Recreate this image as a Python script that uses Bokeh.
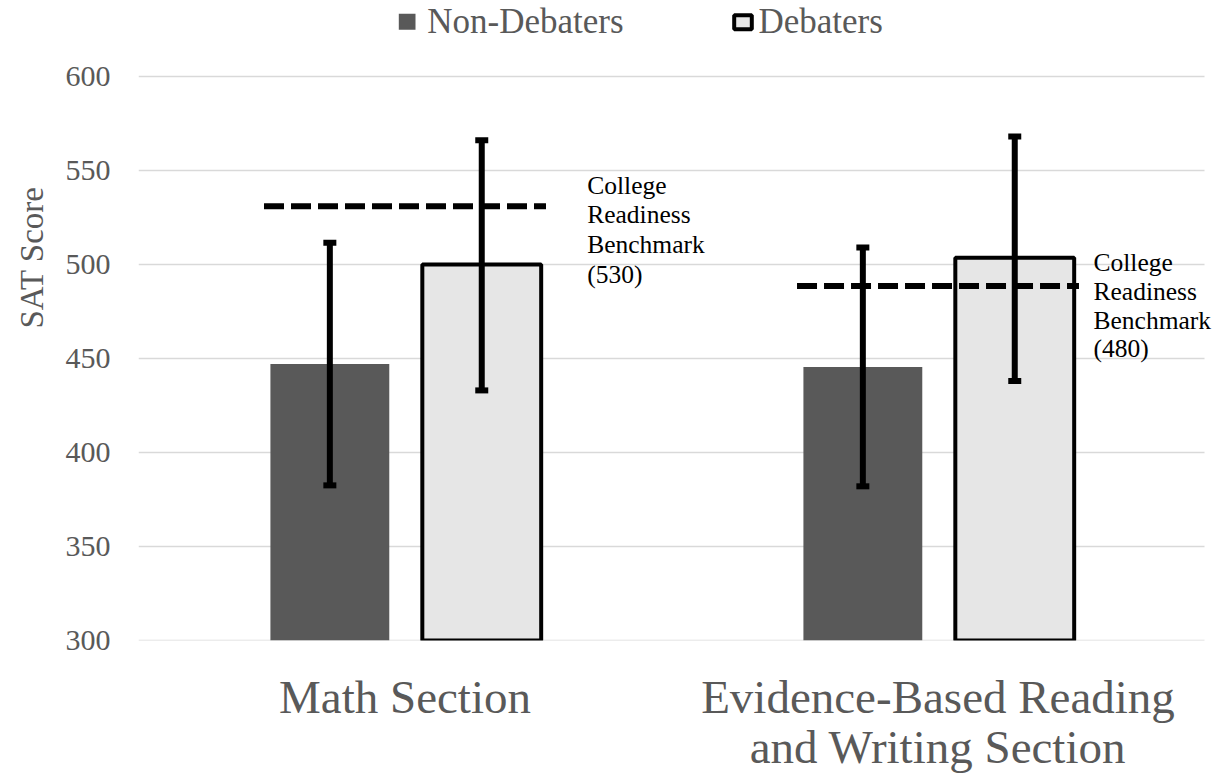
from bokeh.plotting import figure
from bokeh.models import Range1d, FixedTicker, Label, Title
from bokeh.embed import file_html
from bokeh.resources import INLINE
from bokeh.core.properties import value

# ---------------- data ----------------
categories = ["Math Section", "Evidence-Based Reading\nand Writing Section"]
series = ["Non-Debaters", "Debaters"]
non_debaters_mean = [447, 445.5]
non_debaters_low = [382.5, 382]
non_debaters_high = [511.5, 509]
debaters_mean = [500, 503.5]
debaters_low = [433, 438]
debaters_high = [566, 568]
benchmark_drawn = [531, 488.5]
benchmark_labels = [["College", "Readiness", "Benchmark", "(530)"],
                    ["College", "Readiness", "Benchmark", "(480)"]]
y_ticks = [300, 350, 400, 450, 500, 550, 600]

# ---------------- style / layout ----------------
FONT = "Liberation Serif"
GRAY_TEXT = "#595959"
ND_COLOR = "#595959"
D_FILL = "#e6e6e6"
GRID = "#d9d9d9"

OX, OY = 0, 0            # observed page offset of the figure in the picture
W, H = 1213, 776
LEFT_B, BOT_B = 138, 135
FRAME_LEFT = OX + LEFT_B
FRAME_RIGHT = OX + W
FRAME_TOP = OY
FRAME_BOTTOM = OY + H - BOT_B
Y600_PAGE = 76
PXU_Y = (FRAME_BOTTOM - Y600_PAGE) / (y_ticks[-1] - y_ticks[0])
PXU_X = 533.0
y_top = y_ticks[-1] + (Y600_PAGE - FRAME_TOP) / PXU_Y
x_end = (FRAME_RIGHT - FRAME_LEFT) / PXU_X
TEXT_SHIFT = 7           # empirical baseline correction for annotation text


def page_x(px):
    return (px - FRAME_LEFT) / PXU_X


def page_y(py):
    return y_ticks[-1] - (py - Y600_PAGE) / PXU_Y


n_cat = len(categories)
cat_x = [i + 0.5 for i in range(n_cat)]
nd_x = [c - 0.141 for c in cat_x]
d_x = [c + 0.144 for c in cat_x]
bar_w = 0.223
bench_half = 0.2645

p = figure(width=W, height=H, x_range=Range1d(0, x_end),
           y_range=Range1d(y_ticks[0], y_top),
           output_backend="svg", toolbar_location=None,
           min_border_left=LEFT_B, min_border_right=0,
           min_border_top=0, min_border_bottom=BOT_B)
p.outline_line_color = None
p.xgrid.visible = False
p.ygrid.visible = False

p.yaxis.ticker = FixedTicker(ticks=y_ticks)
p.yaxis.axis_line_color = None
p.yaxis.major_tick_line_color = None
p.yaxis.minor_tick_line_color = None
p.yaxis.major_label_text_font = FONT
p.yaxis.major_label_text_font_size = "30px"
p.yaxis.major_label_text_color = GRAY_TEXT
p.yaxis.major_label_standoff = 22

p.xaxis.ticker = FixedTicker(ticks=cat_x)
p.xaxis.major_label_overrides = {cat_x[i]: categories[i] for i in range(n_cat)}
p.xaxis.axis_line_color = None
p.xaxis.major_tick_line_color = None
p.xaxis.minor_tick_line_color = None
p.xaxis.major_label_text_font = FONT
p.xaxis.major_label_text_font_size = "47px"
p.xaxis.major_label_text_color = GRAY_TEXT
p.xaxis.major_label_standoff = 24
p.xaxis.major_label_text_line_height = 0.98

# y title on the left
p.add_layout(Title(text="SAT Score", align="left", offset=312, standoff=22,
                   vertical_align="top",
                   text_font=FONT, text_font_size="33px",
                   text_font_style="normal", text_color=GRAY_TEXT), "left")

# horizontal grid lines (end at the last category edge)
p.segment(x0=[0] * len(y_ticks), x1=[n_cat] * len(y_ticks), y0=y_ticks, y1=y_ticks,
          line_color=GRID, line_width=1.5)

# bars
p.vbar(x=nd_x, top=non_debaters_mean, bottom=y_ticks[0], width=bar_w,
       fill_color=ND_COLOR, line_color=None)
p.vbar(x=d_x, top=debaters_mean, bottom=y_ticks[0], width=bar_w,
       fill_color=D_FILL, line_color="black", line_width=4)

# benchmark dashed lines
p.segment(x0=[c - bench_half for c in cat_x], x1=[c + bench_half for c in cat_x],
          y0=benchmark_drawn, y1=benchmark_drawn,
          line_color="black", line_width=6, line_dash="20 7")

# error bars
for xs, lo, hi in [(nd_x, non_debaters_low, non_debaters_high),
                   (d_x, debaters_low, debaters_high)]:
    p.segment(x0=xs, x1=xs, y0=lo, y1=hi, line_color="black", line_width=6)
    p.rect(x=xs + xs, y=lo + hi, width=13, height=6,
           width_units="screen", height_units="screen",
           fill_color="black", line_color=None)

# benchmark labels
label_pos = [(586.7, [192, 221.8, 251.6, 281.4]), (1093, [269, 298, 327, 356])]
for (px, pys), lines in zip(label_pos, benchmark_labels):
    for py, t in zip(pys, lines):
        p.add_layout(Label(x=page_x(px), y=page_y(py - TEXT_SHIFT), text=t,
                           text_font=FONT, text_font_size="25.5px",
                           text_color="black", text_align="left",
                           text_baseline="alphabetic"))

# legend (drawn in the space above the 600 line)
p.quad(left=[page_x(398.3)], right=[page_x(415)], top=[page_y(13.3)], bottom=[page_y(29.3)],
       fill_color=ND_COLOR, line_color=None)
p.quad(left=[page_x(733.7)], right=[page_x(751.3)], top=[page_y(14.7)], bottom=[page_y(28.7)],
       fill_color=D_FILL, line_color="black", line_width=4)
p.text(x=[page_x(426.7), page_x(758)], y=[page_y(21.5), page_y(21.5)], text=series,
       text_font=value(FONT), text_font_size="35px", text_color=GRAY_TEXT,
       text_baseline="alphabetic", text_align="left")

open("out.html", "w").write(file_html(p, INLINE))
